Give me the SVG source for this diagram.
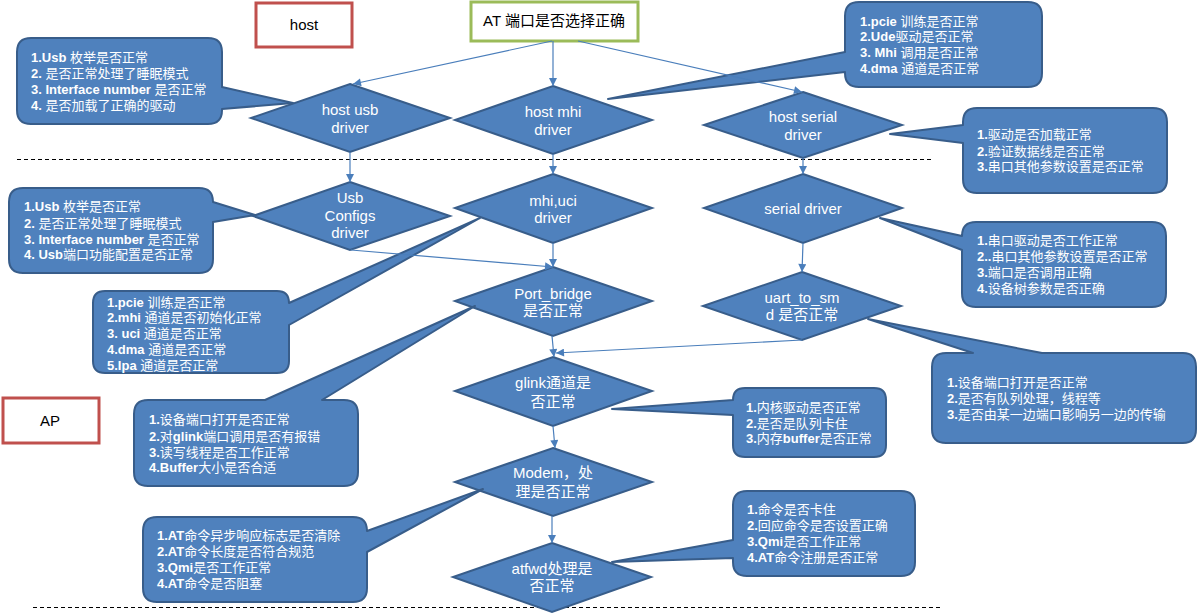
<svg xmlns="http://www.w3.org/2000/svg" width="1198" height="614" viewBox="0 0 1198 614">
<defs>
<style>
text{font-family:"Liberation Sans",Arial,"Noto Sans CJK SC",sans-serif;}
.box{fill:#fff;stroke-width:3;}
.red{stroke:#c0504d;}
.green{stroke:#9bbb59;}
.bt{font-size:15px;fill:#000;text-anchor:middle;}
.dm{fill:#4f81bd;stroke:#385d8a;stroke-width:2;}
.dt{font-size:15px;fill:#fff;text-anchor:middle;}
.co{fill:#4f81bd;stroke:#385d8a;stroke-width:2;stroke-linejoin:round;}
.ct{font-size:13px;fill:#fff;}
.b{font-weight:bold;}
.cn{fill:none;stroke:#4a7ebb;stroke-width:1.2;}
.dash{fill:none;stroke:#000;stroke-width:1;stroke-dasharray:4 3;}
</style>
<marker id="arr" viewBox="0 0 10 10" refX="10" refY="5" markerWidth="9" markerHeight="8" markerUnits="userSpaceOnUse" orient="auto">
<path d="M0,0 L10,5 L0,10 z" fill="#4a7ebb"/>
</marker>
</defs>

<g id="separators">
<line class="dash" x1="17" y1="159.5" x2="931" y2="159.5"/>
<line class="dash" x1="33" y1="607.5" x2="940" y2="607.5"/>
</g>

<g id="label-host">
<rect class="box red" x="256" y="3" width="96" height="44"/>
<text class="bt" x="304" y="30">host</text>
</g>
<g id="label-ap">
<rect class="box red" x="3" y="398" width="96" height="45"/>
<text class="bt" x="50" y="426">AP</text>
</g>
<g id="start">
<rect class="box green" x="471" y="2" width="167" height="39"/>
<text class="bt" x="554" y="26">AT 端口是否选择正确</text>
</g>

<g id="node-host-usb">
<polygon class="dm" points="350,84 450,118 350,152 251,118"/>
<text class="dt" x="350" y="115">host usb</text>
<text class="dt" x="350" y="133">driver</text>
</g>
<g id="node-host-mhi">
<polygon class="dm" points="553,86 652,120 553,154 455,120"/>
<text class="dt" x="553" y="117">host mhi</text>
<text class="dt" x="553" y="135">driver</text>
</g>
<g id="node-host-serial">
<polygon class="dm" points="803,92 902,125 803,158 704,125"/>
<text class="dt" x="803" y="122">host serial</text>
<text class="dt" x="803" y="140">driver</text>
</g>
<g id="node-usb-configs">
<polygon class="dm" points="350,182 450,216 350,250 253,216"/>
<text class="dt" x="350" y="203">Usb</text>
<text class="dt" x="350" y="221">Configs</text>
<text class="dt" x="350" y="238">driver</text>
</g>
<g id="node-mhi-uci">
<polygon class="dm" points="553,174 652,208 553,243 455,208"/>
<text class="dt" x="553" y="206">mhi,uci</text>
<text class="dt" x="553" y="223">driver</text>
</g>
<g id="node-serial-driver">
<polygon class="dm" points="803,174 902,208 803,243 704,208"/>
<text class="dt" x="803" y="214">serial driver</text>
</g>
<g id="node-port-bridge">
<polygon class="dm" points="553,267 652,301 553,336 455,301"/>
<text class="dt" x="553" y="299">Port_bridge</text>
<text class="dt" x="553" y="316">是否正常</text>
</g>
<g id="node-uart">
<polygon class="dm" points="802,272 901,306 802,340 703,306"/>
<text class="dt" x="802" y="303">uart_to_sm</text>
<text class="dt" x="802" y="320">d 是否正常</text>
</g>
<g id="node-glink">
<polygon class="dm" points="553,357 652,391 553,426 455,391"/>
<text class="dt" x="553" y="388">glink通道是</text>
<text class="dt" x="553" y="407">否正常</text>
</g>
<g id="node-modem">
<polygon class="dm" points="553,448 652,482 553,516 455,482"/>
<text class="dt" x="553" y="478">Modem，处</text>
<text class="dt" x="553" y="497">理是否正常</text>
</g>
<g id="node-atfwd">
<polygon class="dm" points="552,543 651,577 552,612 453,577"/>
<text class="dt" x="552" y="574">atfwd处理是</text>
<text class="dt" x="552" y="591">否正常</text>
</g>

<g id="callout-usb-host">
<path class="co" d="M31,38 H208 Q222,38 222,52 V87 L293,103 L222,109 V110 Q222,124 208,124 H31 Q17,124 17,110 V52 Q17,38 31,38 Z"/>
<text class="ct" x="31" y="62"><tspan class="b">1.Usb </tspan>枚举是否正常</text>
<text class="ct" x="31" y="78"><tspan class="b">2. </tspan>是否正常处理了睡眠模式</text>
<text class="ct" x="31" y="94"><tspan class="b">3. Interface number </tspan>是否正常</text>
<text class="ct" x="31" y="110"><tspan class="b">4. </tspan>是否加载了正确的驱动</text>
</g>
<g id="callout-pcie-host">
<path class="co" d="M859,2 H1028 Q1042,2 1042,16 V73 Q1042,87 1028,87 H859 Q845,87 845,73 V72 L608,99 L845,52 V16 Q845,2 859,2 Z"/>
<text class="ct" x="860" y="26"><tspan class="b">1.pcie </tspan>训练是否正常</text>
<text class="ct" x="860" y="41"><tspan class="b">2.Ude</tspan>驱动是否正常</text>
<text class="ct" x="860" y="57"><tspan class="b">3. Mhi </tspan>调用是否正常</text>
<text class="ct" x="860" y="73"><tspan class="b">4.dma </tspan>通道是否正常</text>
</g>
<g id="callout-serial-host">
<path class="co" d="M977,108 H1153 Q1167,108 1167,122 V179 Q1167,193 1153,193 H977 Q963,193 963,179 V143 L890,134 L963,125 V122 Q963,108 977,108 Z"/>
<text class="ct" x="977" y="139"><tspan class="b">1.</tspan>驱动是否加载正常</text>
<text class="ct" x="977" y="156"><tspan class="b">2.</tspan>验证数据线是否正常</text>
<text class="ct" x="977" y="171"><tspan class="b">3.</tspan>串口其他参数设置是否正常</text>
</g>
<g id="callout-usb-configs">
<path class="co" d="M23,188 H199 Q213,188 213,202 L255,215 L213,222 V259 Q213,273 199,273 H23 Q9,273 9,259 V202 Q9,188 23,188 Z"/>
<text class="ct" x="24" y="211"><tspan class="b">1.Usb </tspan>枚举是否正常</text>
<text class="ct" x="24" y="228"><tspan class="b">2. </tspan>是否正常处理了睡眠模式</text>
<text class="ct" x="24" y="244"><tspan class="b">3. Interface number </tspan>是否正常</text>
<text class="ct" x="24" y="259"><tspan class="b">4. Usb</tspan>端口功能配置是否正常</text>
</g>
<g id="callout-mhi-uci">
<path class="co" d="M105,291 H277 Q289,291 289,303 L480,218 L289,325 V361 Q289,373 277,373 H105 Q93,373 93,361 V303 Q93,291 105,291 Z"/>
<text class="ct" x="107" y="307"><tspan class="b">1.pcie </tspan>训练是否正常</text>
<text class="ct" x="107" y="322"><tspan class="b">2.mhi </tspan>通道是否初始化正常</text>
<text class="ct" x="107" y="338"><tspan class="b">3. uci </tspan>通道是否正常</text>
<text class="ct" x="107" y="354"><tspan class="b">4.dma </tspan>通道是否正常</text>
<text class="ct" x="107" y="370"><tspan class="b">5.Ipa </tspan>通道是否正常</text>
</g>
<g id="callout-port-bridge">
<path class="co" d="M148,400 H265 L475,306 L322,400 H344 Q358,400 358,414 V472 Q358,486 344,486 H148 Q134,486 134,472 V414 Q134,400 148,400 Z"/>
<text class="ct" x="149" y="424"><tspan class="b">1.</tspan>设备端口打开是否正常</text>
<text class="ct" x="149" y="441"><tspan class="b">2.</tspan>对<tspan class="b">glink</tspan>端口调用是否有报错</text>
<text class="ct" x="149" y="457"><tspan class="b">3.</tspan>读写线程是否工作正常</text>
<text class="ct" x="149" y="472"><tspan class="b">4.Buffer</tspan>大小是否合适</text>
</g>
<g id="callout-glink">
<path class="co" d="M745,388 H874 Q886,388 886,400 V445 Q886,457 874,457 H745 Q733,457 733,445 V415 L612,409 L733,400 Q733,388 745,388 Z"/>
<text class="ct" x="746" y="412"><tspan class="b">1.</tspan>内核驱动是否正常</text>
<text class="ct" x="746" y="428"><tspan class="b">2.</tspan>是否是队列卡住</text>
<text class="ct" x="746" y="443"><tspan class="b">3.</tspan>内存<tspan class="b">buffer</tspan>是否正常</text>
</g>
<g id="callout-uart">
<path class="co" d="M946,353 H973 L868,319 L1042,353 H1183 Q1196,353 1196,367 V429 Q1196,443 1183,443 H946 Q932,443 932,429 V367 Q932,353 946,353 Z"/>
<text class="ct" x="947" y="387"><tspan class="b">1.</tspan>设备端口打开是否正常</text>
<text class="ct" x="947" y="403"><tspan class="b">2.</tspan>是否有队列处理，线程等</text>
<text class="ct" x="947" y="419"><tspan class="b">3.</tspan>是否由某一边端口影响另一边的传输</text>
</g>
<g id="callout-serial-driver">
<path class="co" d="M976,222 H1152 Q1166,222 1166,236 V293 Q1166,307 1152,307 H976 Q962,307 962,293 V250 L880,218 L962,236 Q962,222 976,222 Z"/>
<text class="ct" x="977" y="245"><tspan class="b">1.</tspan>串口驱动是否工作正常</text>
<text class="ct" x="977" y="261"><tspan class="b">2..</tspan>串口其他参数设置是否正常</text>
<text class="ct" x="977" y="277"><tspan class="b">3.</tspan>端口是否调用正确</text>
<text class="ct" x="977" y="293"><tspan class="b">4.</tspan>设备树参数是否正确</text>
</g>
<g id="callout-modem">
<path class="co" d="M157,517 H353 Q367,517 367,531 L483,489 L367,552 V588 Q367,602 353,602 H157 Q143,602 143,588 V531 Q143,517 157,517 Z"/>
<text class="ct" x="157" y="540"><tspan class="b">1.AT</tspan>命令异步响应标志是否清除</text>
<text class="ct" x="157" y="556"><tspan class="b">2.AT</tspan>命令长度是否符合规范</text>
<text class="ct" x="157" y="572"><tspan class="b">3.Qmi</tspan>是否工作正常</text>
<text class="ct" x="157" y="588"><tspan class="b">4.AT</tspan>命令是否阻塞</text>
</g>
<g id="callout-atfwd">
<path class="co" d="M747,491 H901 Q915,491 915,505 V562 Q915,576 901,576 H747 Q733,576 733,562 V558 L612,562 L733,540 V505 Q733,491 747,491 Z"/>
<text class="ct" x="747" y="514"><tspan class="b">1.</tspan>命令是否卡住</text>
<text class="ct" x="747" y="530"><tspan class="b">2.</tspan>回应命令是否设置正确</text>
<text class="ct" x="747" y="546"><tspan class="b">3.Qmi</tspan>是否工作正常</text>
<text class="ct" x="747" y="562"><tspan class="b">4.AT</tspan>命令注册是否正常</text>
</g>

<g id="connectors">
<path class="cn" d="M552,41 L353,84" marker-end="url(#arr)"/>
<path class="cn" d="M553,41 L553,86" marker-end="url(#arr)"/>
<path class="cn" d="M578,41 L802,92" marker-end="url(#arr)"/>
<path class="cn" d="M350,152 L350,182" marker-end="url(#arr)"/>
<path class="cn" d="M553,154 L553,174" marker-end="url(#arr)"/>
<path class="cn" d="M803,158 L803,174" marker-end="url(#arr)"/>
<path class="cn" d="M553,243 L553,267" marker-end="url(#arr)"/>
<path class="cn" d="M351,250 L553,267" marker-end="url(#arr)"/>
<path class="cn" d="M803,243 L802,272" marker-end="url(#arr)"/>
<path class="cn" d="M552,336 L554,357" marker-end="url(#arr)"/>
<path class="cn" d="M802,340 L556,353" marker-end="url(#arr)"/>
<path class="cn" d="M553,426 L555,448" marker-end="url(#arr)"/>
<path class="cn" d="M552,516 L552,543" marker-end="url(#arr)"/>
</g>
</svg>
